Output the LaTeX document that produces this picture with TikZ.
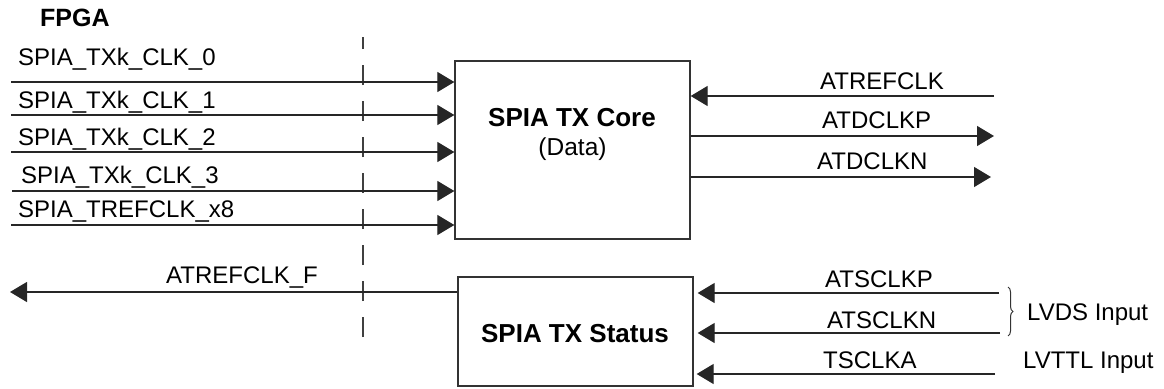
\documentclass[tikz,border=0pt]{standalone}
\usepackage{fontspec}
\setmainfont{Liberation Sans}
\usetikzlibrary{arrows.meta,decorations.pathreplacing}
\begin{document}
\begin{tikzpicture}[x=1pt,y=-1pt,
  lbl/.style={anchor=base west,inner sep=0pt,font=\fontsize{24}{28}\selectfont},
  ttl/.style={anchor=base,inner sep=0pt,font=\bfseries\fontsize{26}{30}\selectfont},
  blk/.style={draw=black!80,line width=1.3pt,inner sep=0pt,fill=white},
  sig/.style={draw=black!85,line width=1.2pt,-{Triangle[length=17pt,width=20pt]}},
  bnd/.style={draw=black!75,line width=1.3pt,dash pattern=on 20pt off 16pt}]
\useasboundingbox (0,0) rectangle (1164,388);

% FPGA boundary
\node[anchor=base west,inner sep=0pt,font=\bfseries\fontsize{25}{28}\selectfont] (fpga) at (40,27) {FPGA};
\coordinate (dtop) at (363,37);
\coordinate (dbot) at (363,337);
\draw[bnd] (dbot) -- (dtop);

% blocks
\node[blk,minimum width=235pt,minimum height=178pt] (core) at (572.5,150) {};
\node[ttl] (coret) at (572,126) {SPIA TX Core};
\node[anchor=base,inner sep=0pt,font=\fontsize{24.5}{28}\selectfont] (data) at (572.5,155) {(Data)};
\node[blk,minimum width=235pt,minimum height=109pt] (status) at (575.5,331.5) {};
\node[ttl] (statust) at (575,342) {SPIA TX Status};

% left inputs
\coordinate (i0) at (11,82);
\coordinate (i1) at (11,115);
\coordinate (i2) at (11,152);
\coordinate (i3) at (12,191);
\coordinate (i4) at (11,225);
\foreach \c in {i0,i1,i2,i3,i4}
  \draw[sig] (\c) -- (\c -| core.west);
\node[lbl] (l0) at (18,65) {SPIA\_TXk\_CLK\_0};
\node[lbl] (l1) at (18,108) {SPIA\_TXk\_CLK\_1};
\node[lbl] (l2) at (18,145) {SPIA\_TXk\_CLK\_2};
\node[lbl] (l3) at (21,183) {SPIA\_TXk\_CLK\_3};
\node[lbl] (l4) at (18,217) {SPIA\_TREFCLK\_x8};

% core right side
\coordinate (r0) at (994,96);
\coordinate (r1) at (994,136);
\coordinate (r2) at (991,177);
\draw[sig] (r0) -- (r0 -| core.east);
\draw[sig] (r1 -| core.east) -- (r1);
\draw[sig] (r2 -| core.east) -- (r2);
\node[lbl] (lr0) at (820,89) {ATREFCLK};
\node[lbl] (lr1) at (822,128) {ATDCLKP};
\node[lbl] (lr2) at (817,169) {ATDCLKN};

% status left output
\coordinate (o) at (10,292);
\draw[sig] (o -| status.west) -- (o);
\node[lbl] (lo) at (166,283) {ATREFCLK\_F};

% status right inputs
\coordinate (s0) at (999,293);
\coordinate (s1) at (1000,333);
\coordinate (s2) at (995,374);
\draw[sig,shorten >=4pt] (s0) -- (s0 -| status.east);
\draw[sig,shorten >=4pt] (s1) -- (s1 -| status.east);
\draw[sig,shorten >=3pt] (s2) -- (s2 -| status.east);
\node[lbl] (ls0) at (825,287) {ATSCLKP};
\node[lbl] (ls1) at (827,328) {ATSCLKN};
\node[lbl] (ls2) at (823,368) {TSCLKA};

% brace and input types
\coordinate (btop) at (1008,287);
\coordinate (bbot) at (1008,336);
\draw[black!80,line width=1pt,decorate,decoration={brace,amplitude=5pt}] (btop) -- (bbot);
\node[lbl] (lvds) at (1027,320) {LVDS Input};
\node[lbl] (lvttl) at (1023,368) {LVTTL Input};
\end{tikzpicture}
\end{document}
